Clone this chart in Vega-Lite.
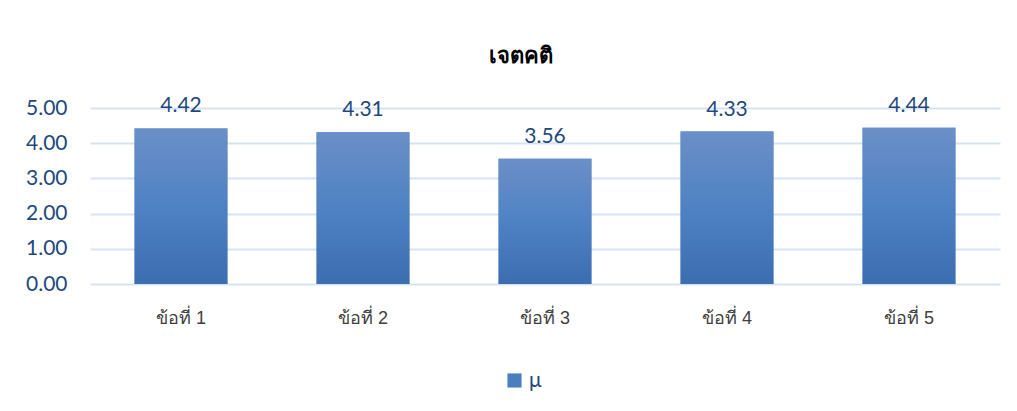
{
  "$schema": "https://vega.github.io/schema/vega-lite/v6.json",
  "autosize": "none",
  "width": 910,
  "height": 176,
  "padding": {"left": 90, "top": 108, "right": 17, "bottom": 127},
  "background": "white",
  "title": {
    "text": "เจตคติ",
    "anchor": "middle",
    "frame": "group",
    "dx": -24,
    "fontSize": 22,
    "fontWeight": "bold",
    "font": "Noto Sans",
    "color": "#000000",
    "offset": 27
  },
  "data": {
    "values": [
      {"item": "ข้อที่ 1", "value": 4.42, "series": "μ"},
      {"item": "ข้อที่ 2", "value": 4.31, "series": "μ"},
      {"item": "ข้อที่ 3", "value": 3.56, "series": "μ"},
      {"item": "ข้อที่ 4", "value": 4.33, "series": "μ"},
      {"item": "ข้อที่ 5", "value": 4.44, "series": "μ"}
    ]
  },
  "encoding": {
    "x": {
      "field": "item",
      "type": "nominal",
      "sort": null,
      "title": null,
      "scale": {"paddingInner": 0.49, "paddingOuter": 0.245},
      "axis": {
        "labelAngle": 0,
        "domain": false,
        "ticks": false,
        "labelPadding": 25,
        "labelFontSize": 18,
        "labelFont": "Liberation Sans",
        "labelColor": "#404040"
      }
    },
    "y": {
      "field": "value",
      "type": "quantitative",
      "title": null,
      "scale": {"domain": [0, 5]},
      "axis": {
        "values": [0, 1, 2, 3, 4, 5],
        "format": ".2f",
        "domain": false,
        "ticks": false,
        "labelPadding": 23,
        "labelFontSize": 21,
        "labelFont": "Lato",
        "labelColor": "#1f497d",
        "gridColor": "#d6e3f3",
        "gridWidth": 2
      }
    }
  },
  "layer": [
    {
      "mark": {"type": "bar"},
      "encoding": {
        "color": {
          "field": "series",
          "type": "nominal",
          "scale": {"range": ["#4a7ebf"]},
          "legend": {
            "title": null,
            "orient": "none",
            "legendX": 414,
            "legendY": 262,
            "symbolType": "square",
            "symbolSize": 200,
            "symbolStrokeWidth": 0,
            "labelFontSize": 21,
            "labelFont": "Lato",
            "labelColor": "#1f497d",
            "labelOffset": 4
          }
        }
      }
    },
    {
      "mark": {
        "type": "bar",
        "fill": {
          "gradient": "linear",
          "x1": 0, "y1": 0, "x2": 0, "y2": 1,
          "stops": [
            {"offset": 0, "color": "#6b8fc7"},
            {"offset": 0.5, "color": "#4f82c4"},
            {"offset": 1, "color": "#3b6db0"}
          ]
        }
      }
    },
    {
      "mark": {
        "type": "text",
        "baseline": "alphabetic",
        "dy": -16,
        "fontSize": 21,
        "font": "Lato",
        "color": "#1f497d"
      },
      "encoding": {
        "text": {"field": "value", "type": "quantitative", "format": ".2f"}
      }
    }
  ],
  "config": {
    "view": {"stroke": null}
  }
}
